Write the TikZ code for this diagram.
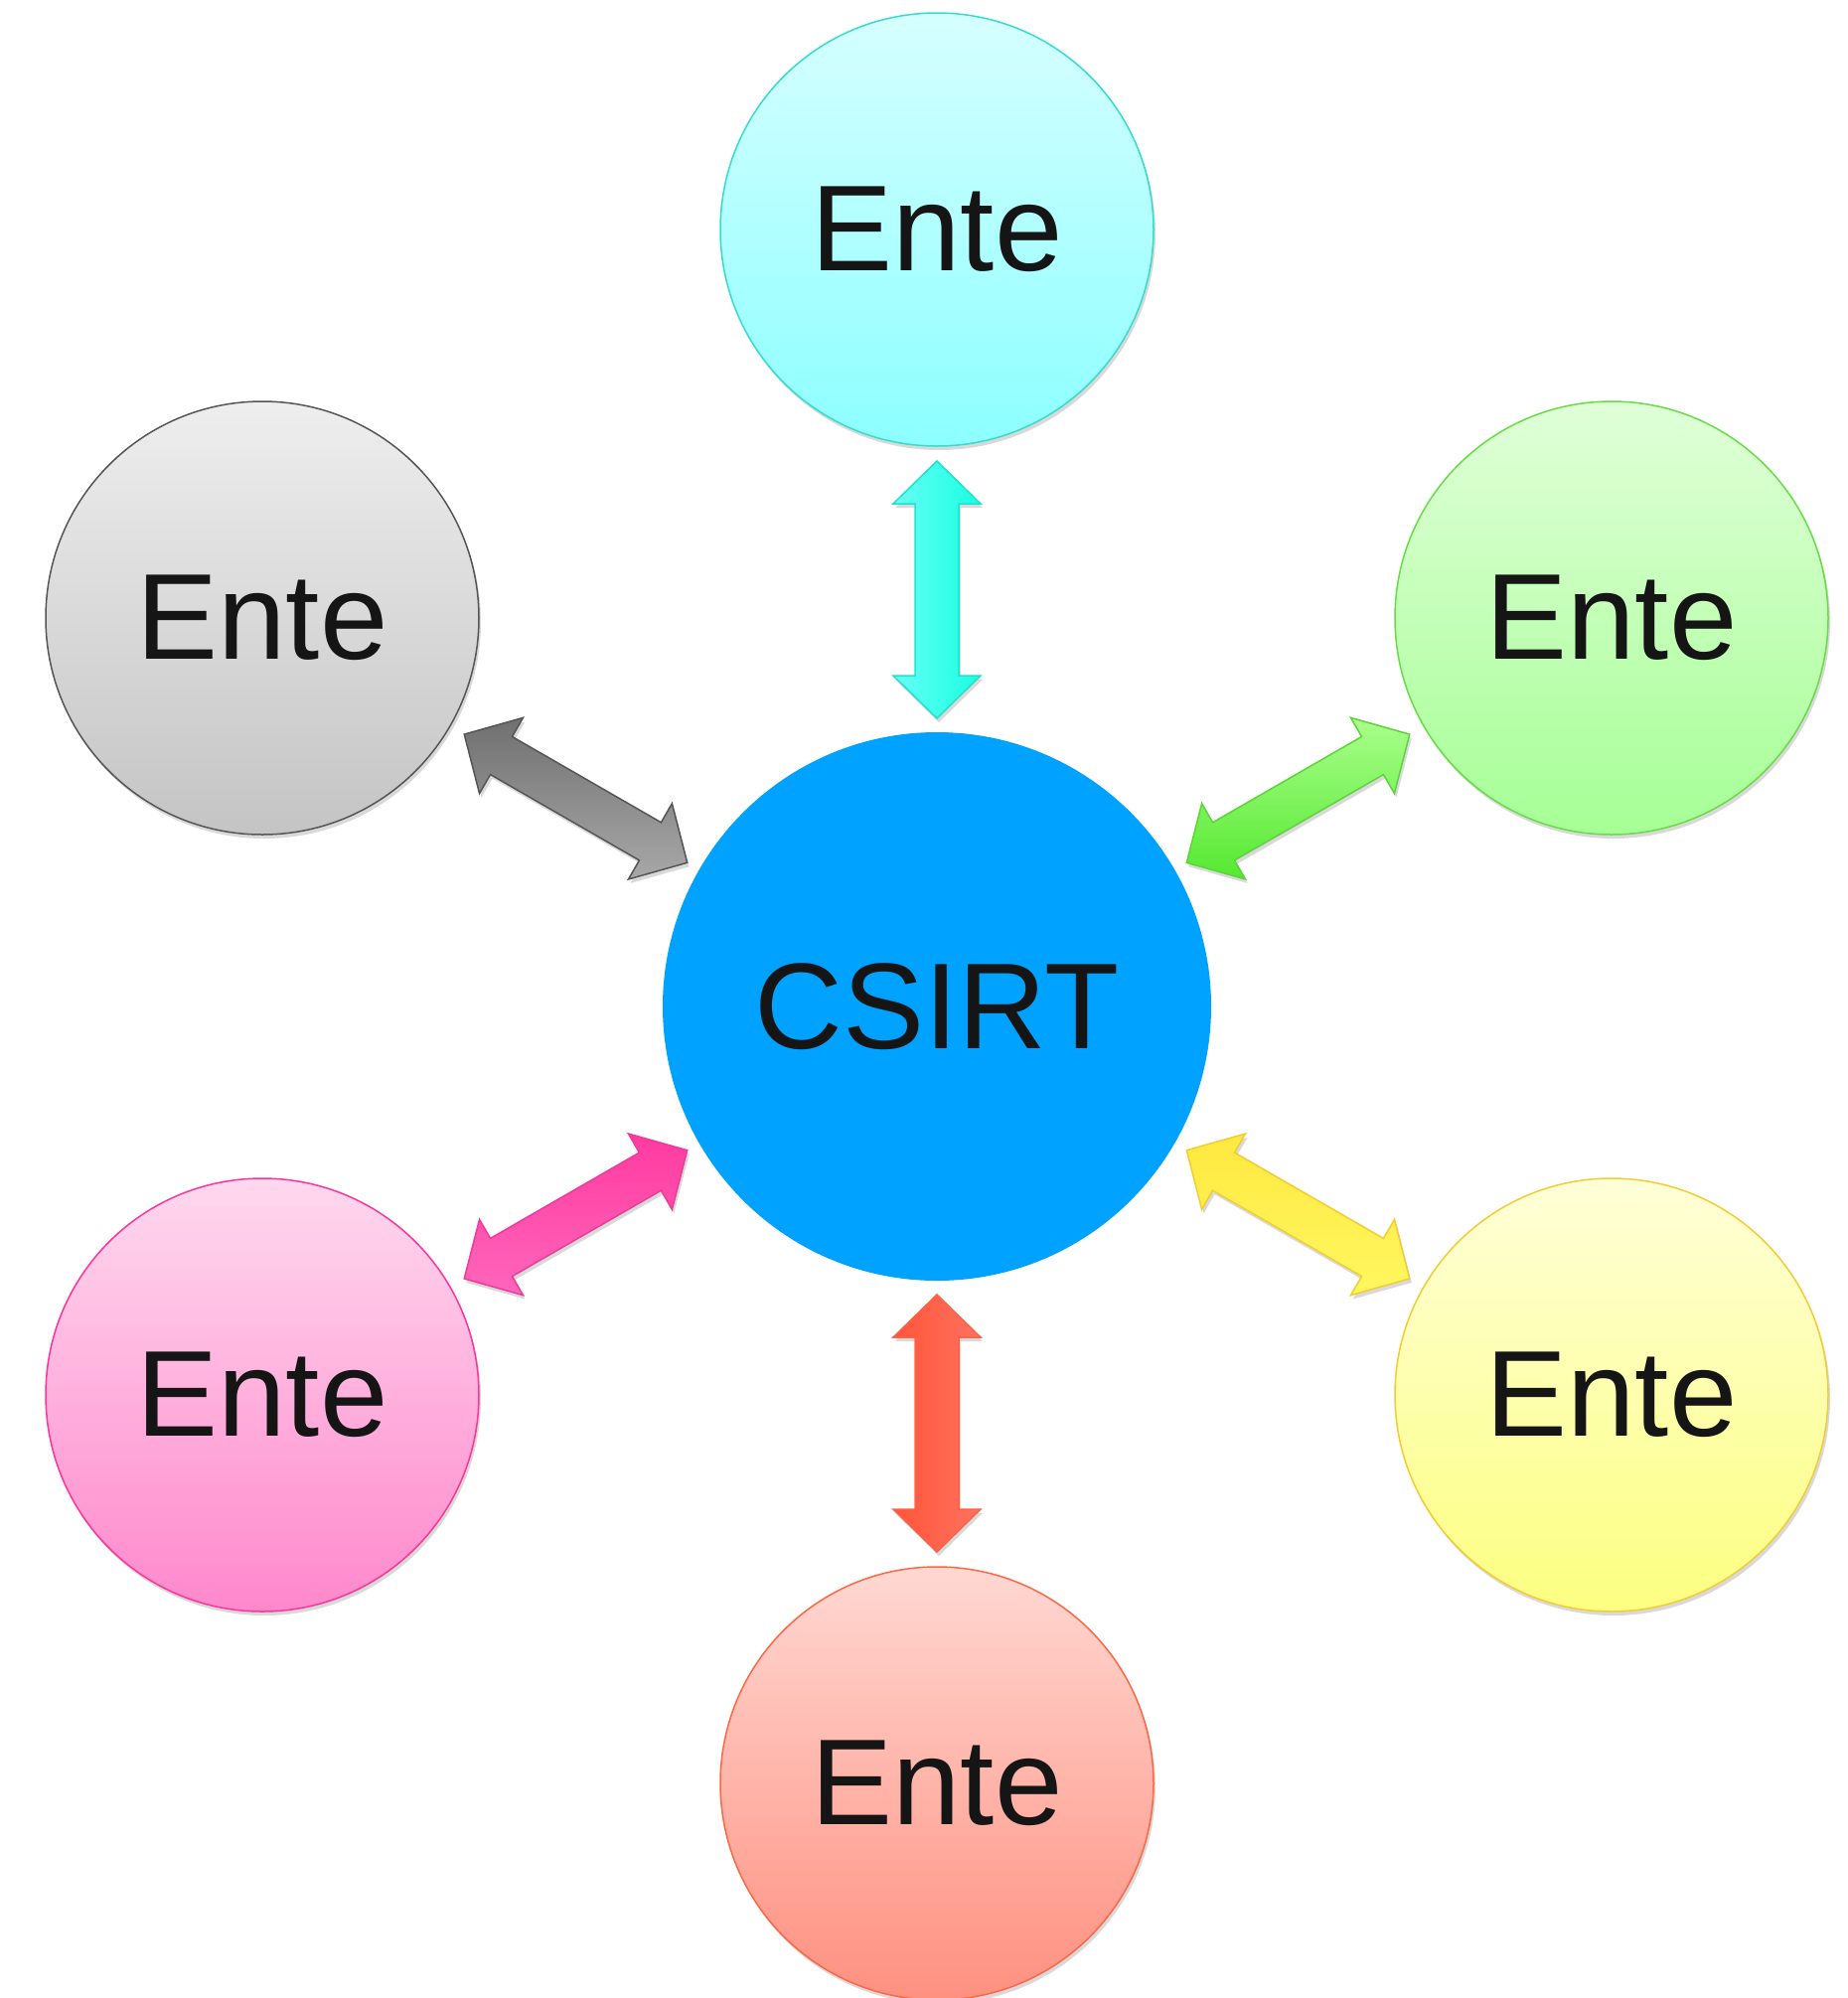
\documentclass[tikz,border=0pt]{standalone}
\usepackage{fontspec}
\setmainfont{Liberation Sans}
\usetikzlibrary{calc,shadows}
\definecolor{txt}{HTML}{151515}
\definecolor{csirt}{HTML}{00A2FF}
\definecolor{cyT}{HTML}{D6FFFF}\definecolor{cyB}{HTML}{8CFFFF}\definecolor{cyD}{HTML}{33DDCC}
\definecolor{grT}{HTML}{EEEEEE}\definecolor{grB}{HTML}{C4C4C4}\definecolor{grD}{HTML}{555555}
\definecolor{gnT}{HTML}{E0FFD8}\definecolor{gnB}{HTML}{A6FF96}\definecolor{gnD}{HTML}{66DD44}
\definecolor{yeT}{HTML}{FFFFD8}\definecolor{yeB}{HTML}{FCFF80}\definecolor{yeD}{HTML}{F5CC30}
\definecolor{pkT}{HTML}{FFD8EE}\definecolor{pkB}{HTML}{FF88CC}\definecolor{pkD}{HTML}{FF3399}
\definecolor{rdT}{HTML}{FFD8D2}\definecolor{rdB}{HTML}{FF9080}\definecolor{rdD}{HTML}{FF6644}
\definecolor{acyL}{HTML}{66FFF5}\definecolor{acyR}{HTML}{18FFE0}\definecolor{acyD}{HTML}{22E0CC}
\definecolor{ardL}{HTML}{FF5538}\definecolor{ardR}{HTML}{FF7260}\definecolor{ardD}{HTML}{FF6048}
\definecolor{agrT}{HTML}{707070}\definecolor{agrB}{HTML}{A8A8A8}
\definecolor{agnT}{HTML}{AAFF8C}\definecolor{agnB}{HTML}{55E830}\definecolor{agnD}{HTML}{5CD43A}
\definecolor{apkT}{HTML}{FF3AA0}\definecolor{apkB}{HTML}{FF66BB}\definecolor{apkD}{HTML}{EE3A99}
\definecolor{ayeT}{HTML}{FFE840}\definecolor{ayeB}{HTML}{FFF760}\definecolor{ayeD}{HTML}{F2CC30}
\newcommand\dblarrow[2]{%
  \coordinate (A1) at ($(c)!290pt!(#1)$);
  \coordinate (A2) at ($(c)!333pt!(#1)$);
  \coordinate (A3) at ($(c)!506pt!(#1)$);
  \coordinate (A4) at ($(c)!549pt!(#1)$);
  \draw[arr,#2] (A1) -- ($(A2)!44pt!90:(A4)$) -- ($(A2)!22pt!90:(A4)$)
    -- ($(A3)!22pt!90:(A4)$) -- ($(A3)!44pt!90:(A4)$) -- (A4)
    -- ($(A3)!44pt!-90:(A4)$) -- ($(A3)!22pt!-90:(A4)$)
    -- ($(A2)!22pt!-90:(A4)$) -- ($(A2)!44pt!-90:(A4)$) -- cycle;}
\begin{document}
\begin{tikzpicture}[x=1pt,y=-1pt,
  shad/.style={drop shadow={shadow xshift=2pt,shadow yshift=-4pt,opacity=0.15,fill=black}},
  ente/.style={circle,minimum size=436pt,inner sep=0pt,line width=1.5pt,text=txt,
    font=\fontsize{123}{130}\selectfont,shad},
  arr/.style={line width=1.5pt,line join=miter,shad}]
\useasboundingbox (0,0) rectangle (1860,2011);
\node[circle,minimum size=552pt,inner sep=0pt,fill=csirt,text=txt,
  font=\fontsize{123}{130}\selectfont] (c) at (943,1013) {CSIRT};
\node[ente,draw=cyD,top color=cyT,bottom color=cyB] (t) at (943,231) {Ente};
\node[ente,draw=grD,top color=grT,bottom color=grB] (gl) at (264,622) {Ente};
\node[ente,draw=gnD,top color=gnT,bottom color=gnB] (gr) at (1622,622) {Ente};
\node[ente,draw=pkD,top color=pkT,bottom color=pkB] (bl) at (264,1404) {Ente};
\node[ente,draw=yeD,top color=yeT,bottom color=yeB] (br) at (1622,1404) {Ente};
\node[ente,draw=rdD,top color=rdT,bottom color=rdB] (b) at (943,1795) {Ente};
\dblarrow{t}{draw=acyD,left color=acyL,right color=acyR}
\dblarrow{b}{draw=ardD,left color=ardL,right color=ardR}
\dblarrow{gl}{draw=grD,top color=agrT,bottom color=agrB}
\dblarrow{gr}{draw=agnD,top color=agnT,bottom color=agnB}
\dblarrow{bl}{draw=apkD,top color=apkT,bottom color=apkB}
\dblarrow{br}{draw=ayeD,top color=ayeT,bottom color=ayeB}
\end{tikzpicture}
\end{document}
